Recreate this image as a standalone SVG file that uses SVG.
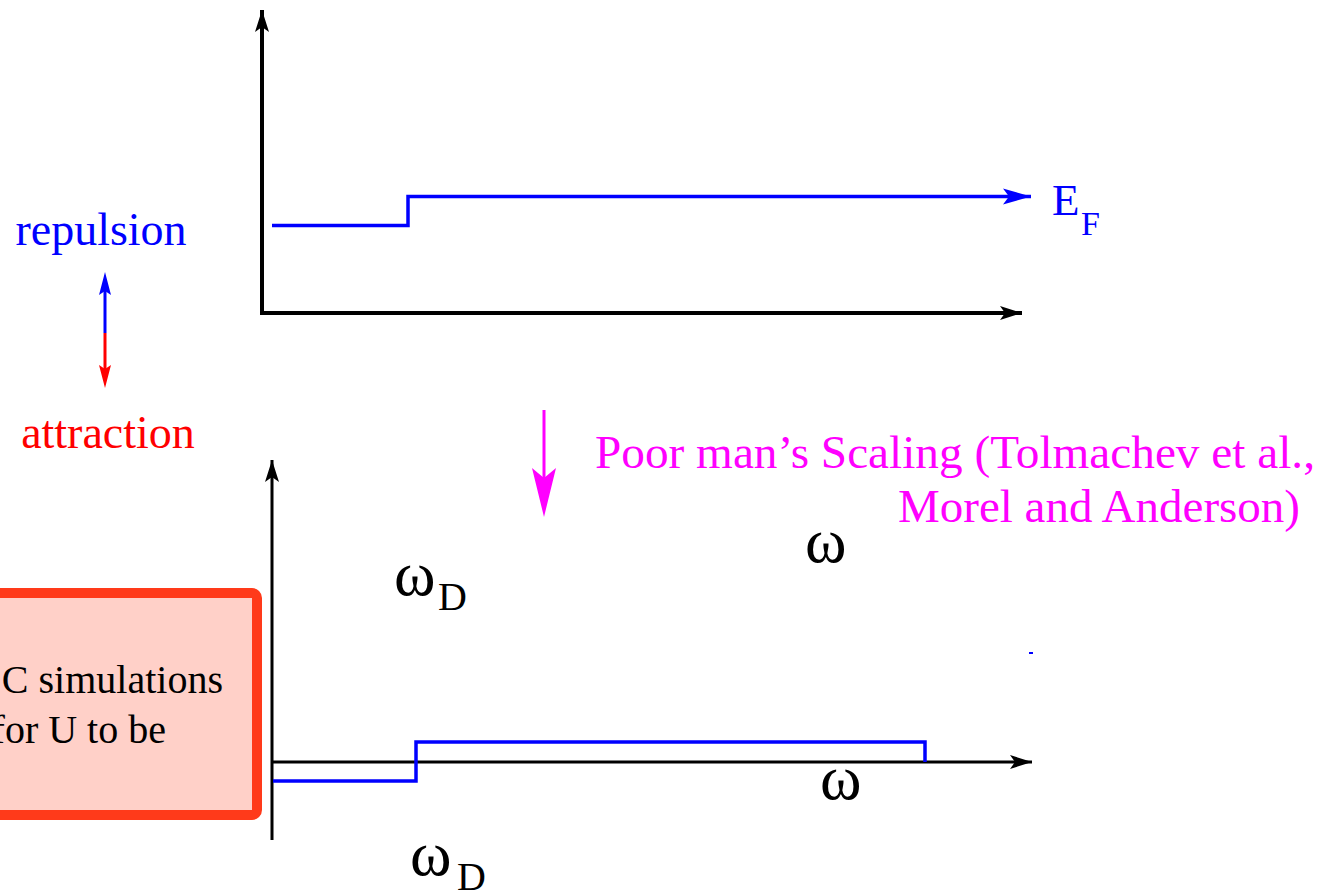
<svg xmlns="http://www.w3.org/2000/svg" width="1319" height="894" viewBox="0 0 1319 894">
<style>
text{font-family:'Liberation Serif','DejaVu Serif','Times New Roman',serif}
.ax{stroke:#000;fill:none}
.bl{stroke:#0000ff;fill:none;stroke-width:3.5}
</style>
<defs>
<marker id="ahK" markerWidth="24" markerHeight="16" refX="22" refY="8" orient="auto" markerUnits="userSpaceOnUse">
<path d="M0,1 L22,8 L0,15 L5,8 Z" fill="#000"/>
</marker>
<marker id="ahB" markerWidth="30" markerHeight="18" refX="28" refY="9" orient="auto" markerUnits="userSpaceOnUse">
<path d="M0,1 L28,9 L0,17 L6,9 Z" fill="#0000ff"/>
</marker>
</defs>
<rect width="1319" height="894" fill="#fff"/>

<g id="connectors">
<line class="ax" x1="262" y1="315" x2="262" y2="10" stroke-width="4" marker-end="url(#ahK)"/>
<line class="ax" x1="260" y1="313" x2="1022" y2="313" stroke-width="4" marker-end="url(#ahK)"/>
<polyline class="bl" points="272,225.5 408,225.5 408,196.5 1031,196.5" marker-end="url(#ahB)"/>
<line class="ax" x1="272" y1="840" x2="272" y2="460" stroke-width="3" marker-end="url(#ahK)"/>
<line class="ax" x1="271" y1="762" x2="1032" y2="762" stroke-width="3" marker-end="url(#ahK)"/>
<polyline class="bl" points="273,781 416,781 416,742 925,742 925,762"/>
<line x1="105" y1="290" x2="105" y2="333" stroke="#0000ff" stroke-width="3"/>
<path d="M105,272 L111,295 L105,291 L99,295 Z" fill="#0000ff"/>
<line x1="105" y1="333" x2="105" y2="370" stroke="#ff0000" stroke-width="3"/>
<path d="M105,388 L111,365 L105,369 L99,365 Z" fill="#ff0000"/>
<line x1="544" y1="410" x2="544" y2="495" stroke="#ff00ff" stroke-width="3"/>
<path d="M544,517 L556,468 L544,478 L532,468 Z" fill="#ff00ff"/>
</g>

<g id="labels-top">
<text x="1052" y="215" font-size="45" fill="#0000ff">E</text>
<text x="1081" y="235" font-size="34" fill="#0000ff">F</text>
</g>

<g id="repulsion">
<text x="101" y="245" font-size="46" fill="#0000ff" text-anchor="middle">repulsion</text>
</g>
<g id="attraction">
<text x="108" y="448" font-size="46" fill="#ff0000" text-anchor="middle">attraction</text>
</g>

<g id="scaling-label">
<text x="595" y="468" font-size="46" fill="#ff00ff" textLength="720" lengthAdjust="spacingAndGlyphs">Poor man’s Scaling (Tolmachev et al.,</text>
<text x="898" y="522" font-size="46" fill="#ff00ff" textLength="402" lengthAdjust="spacingAndGlyphs">Morel and Anderson)</text>
</g>

<g id="omega-labels">
<text x="805" y="562" font-size="63">ω</text>
<text x="394" y="595" font-size="63">ω</text>
<text x="438" y="610" font-size="40">D</text>
<text x="820" y="799" font-size="63">ω</text>
<text x="410" y="875" font-size="63">ω</text>
<text x="457" y="890" font-size="40">D</text>
</g>

<g id="note-box">
<rect x="-20" y="593" width="277" height="222" rx="5" fill="#ffd0c8" stroke="#ff3a1a" stroke-width="10"/>
<text x="223" y="693" font-size="40" text-anchor="end">C simulations</text>
<text x="166" y="743" font-size="40" text-anchor="end">for U to be</text>
</g>

<rect x="1029" y="652" width="4" height="2" fill="#0000ff"/>
</svg>
